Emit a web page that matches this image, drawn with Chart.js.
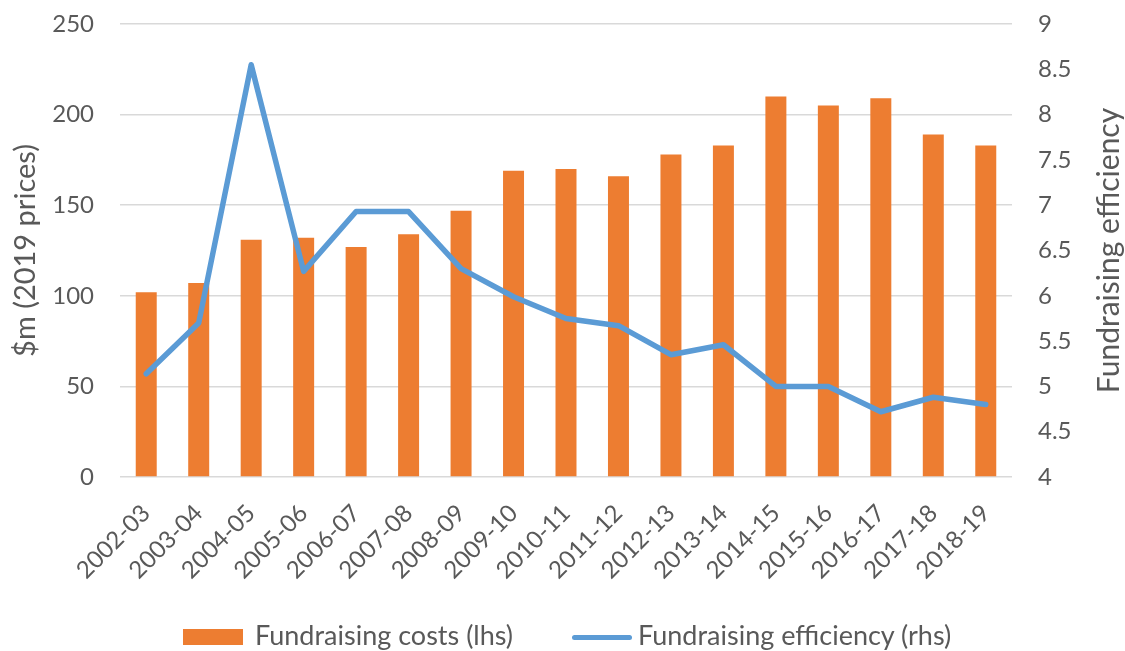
<!DOCTYPE html>
<html>
<head>
<meta charset="utf-8">
<script src="https://cdn.jsdelivr.net/npm/chart.js@4.4.1/dist/chart.umd.min.js"></script>
<style>
    html, body { margin: 0; padding: 0; background: #fff; }
    #wrap { position: relative; width: 1125px; height: 651px; overflow: hidden; }
    #legend {
        position: absolute; left: 0; right: 0; top: 620px; height: 30px;
        font-family: Lato, sans-serif; font-size: 27px; line-height: 30px; color: #595959;
    }
    #legend .item { position: absolute; top: 0; height: 30px; display: flex; align-items: center; white-space: nowrap; }
    #legend .bar { width: 60px; height: 16px; background: #ed7d31; margin-right: 12px; position: relative; top: 2px; }
    #legend .line { width: 60px; height: 5px; background: #5b9bd5; border-radius: 3px; margin-right: 6px; position: relative; top: 2px; }
</style>
</head>
<body>
<div id="wrap">
    <canvas id="chart"></canvas>
    <div id="legend">
        <div class="item" style="left:183px"><span class="bar"></span>Fundraising costs (lhs)</div>
        <div class="item" style="left:572px"><span class="line"></span>Fundraising efficiency (rhs)</div>
    </div>
</div>
<script>
const years = ['2002-03', '2003-04', '2004-05', '2005-06', '2006-07', '2007-08', '2008-09', '2009-10',
    '2010-11', '2011-12', '2012-13', '2013-14', '2014-15', '2015-16', '2016-17', '2017-18', '2018-19'];
const costs = [102, 107, 131, 132, 127, 134, 147, 169, 170, 166, 178, 183, 210, 205, 209, 189, 183];
const efficiency = [5.14, 5.7, 8.55, 6.27, 6.93, 6.93, 6.3, 5.99, 5.75, 5.67, 5.35, 5.46, 5.0, 5.0, 4.72, 4.88, 4.8];

const textColor = '#595959';
const gridColor = '#d9d9d9';
const fontFamily = 'Lato, sans-serif';

//right axis title reads bottom-to-top, so draw it here
const rightTitle = {
    id: 'rightTitle',
    afterDraw(chart) {
        const ctx = chart.ctx;
        const area = chart.chartArea;
        ctx.save();
        ctx.translate(1109, (area.top + area.bottom) / 2);
        ctx.rotate(-Math.PI / 2);
        ctx.fillStyle = textColor;
        ctx.font = '30px ' + fontFamily;
        ctx.textAlign = 'center';
        ctx.textBaseline = 'middle';
        ctx.fillText('Fundraising efficiency', 0, 0);
        ctx.restore();
    }
};

//fixed axis sizes so the plot area sits where the original has it
function fixSize(w, h) {
    return (scale) => {
        if (w) scale.width = w;
        if (h) scale.height = h;
        scale.paddingLeft = 0;
        scale.paddingRight = 0;
        scale.paddingTop = 0;
        scale.paddingBottom = 0;
    };
}

new Chart(document.getElementById('chart'), {
    data: {
        labels: years,
        datasets: [
            {
                type: 'line',
                label: 'Fundraising efficiency (rhs)',
                data: efficiency,
                yAxisID: 'y1',
                borderColor: '#5b9bd5',
                backgroundColor: '#5b9bd5',
                borderWidth: 5.5,
                pointRadius: 0,
                tension: 0,
                borderJoinStyle: 'round',
                borderCapStyle: 'round',
                order: 0,
            },
            {
                type: 'bar',
                label: 'Fundraising costs (lhs)',
                data: costs,
                yAxisID: 'y',
                backgroundColor: '#ed7d31',
                categoryPercentage: 1,
                barPercentage: 0.4,
                order: 1,
            }
        ]
    },
    options: {
        responsive: true,
        maintainAspectRatio: false,
        animation: false,
        layout: { padding: { top: 24, left: 8, right: 0, bottom: 0 } },
        plugins: {
            legend: { display: false },
            tooltip: { enabled: false },
        },
        scales: {
            x: {
                grid: { display: false, drawTicks: false },
                border: { display: false },
                ticks: {
                    color: textColor,
                    font: { family: fontFamily, size: 24 },
                    maxRotation: 45,
                    minRotation: 45,
                    autoSkip: false,
                    padding: 22,
                },
                afterFit: fixSize(0, 174),
            },
            y: {
                position: 'left',
                min: 0,
                max: 250,
                ticks: {
                    stepSize: 50,
                    color: textColor,
                    font: { family: fontFamily, size: 24 },
                    padding: 26,
                },
                grid: { color: gridColor, lineWidth: 1.5, drawTicks: false },
                border: { display: false },
                title: {
                    display: true,
                    text: '$m (2019 prices)',
                    color: textColor,
                    font: { family: fontFamily, size: 29 },
                    padding: 0,
                },
                afterFit: fixSize(112, 0),
            },
            y1: {
                position: 'right',
                min: 4,
                max: 9,
                ticks: {
                    stepSize: 0.5,
                    color: textColor,
                    font: { family: fontFamily, size: 24 },
                    padding: 26,
                    callback: (v) => String(v),
                },
                grid: { drawOnChartArea: false, drawTicks: false },
                border: { display: false },
                afterFit: fixSize(113, 0),
            },
        },
    },
    plugins: [rightTitle],
});
</script>
</body>
</html>
